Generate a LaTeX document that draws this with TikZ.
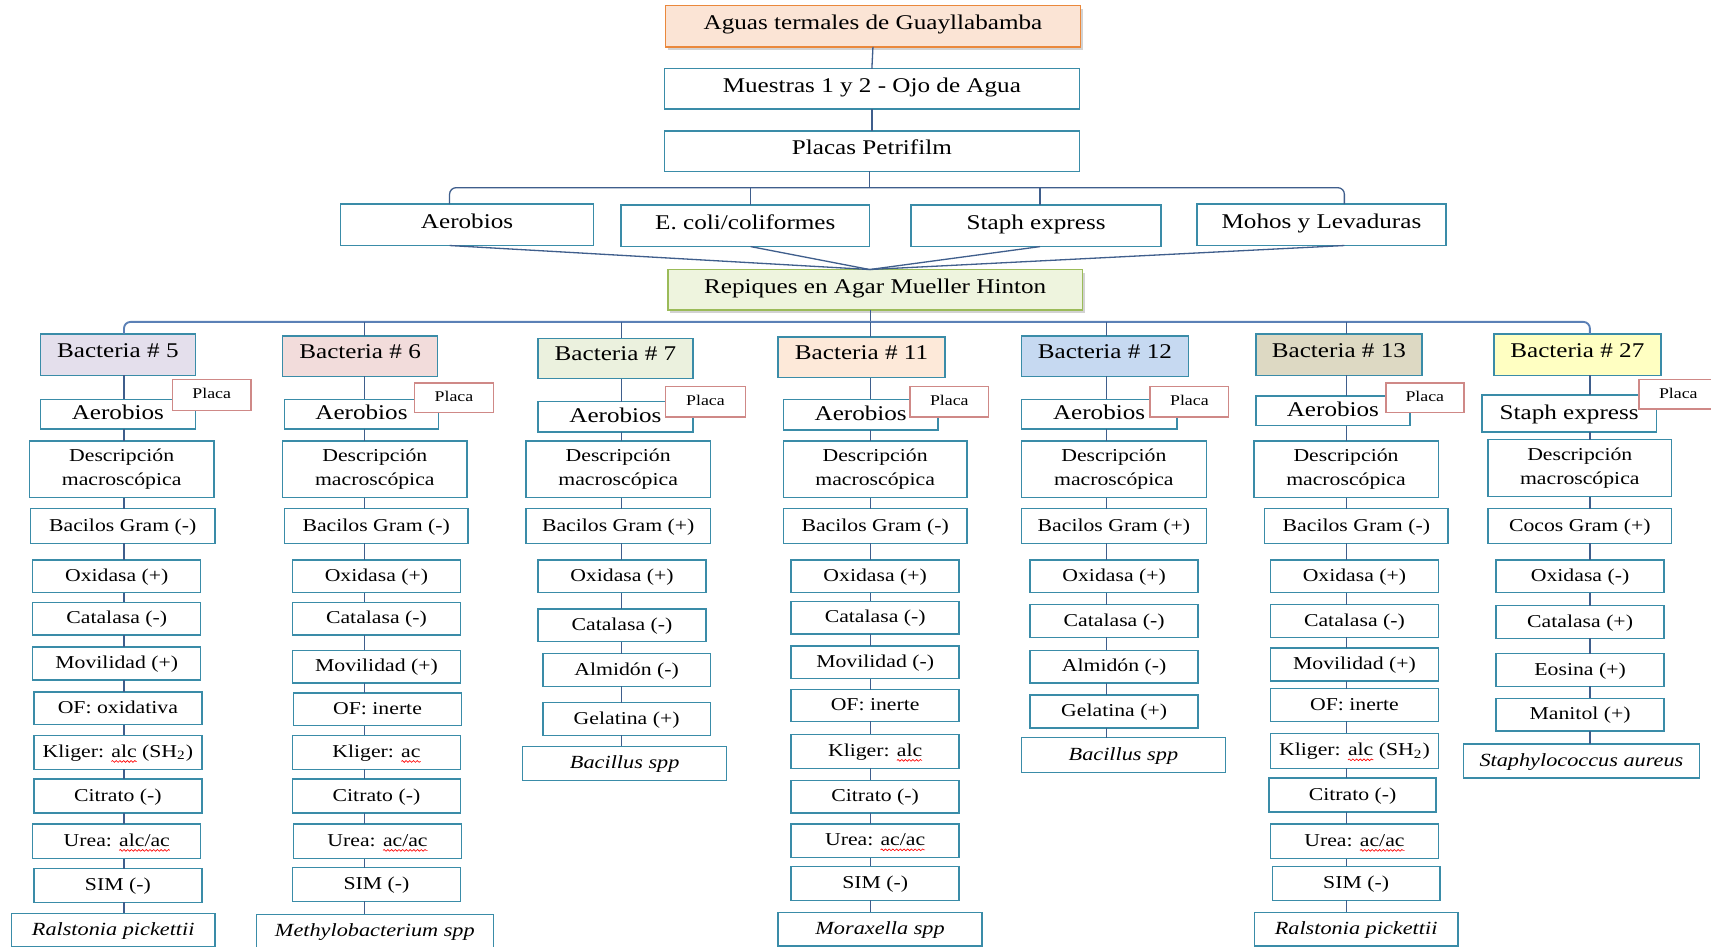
\documentclass[tikz,border=0pt]{standalone}
\usepackage{fontspec}
\setmainfont{Liberation Serif}[FakeStretch=1.2]
\usetikzlibrary{shadows,decorations.pathmorphing}
\definecolor{bord}{HTML}{3A8CA8}
\definecolor{conn}{HTML}{3F5E8C}
\definecolor{trunk}{HTML}{5B80B6}
\definecolor{placab}{HTML}{CF8987}
\definecolor{orgf}{HTML}{FBE4D5}
\definecolor{orgb}{HTML}{EA883C}
\definecolor{grnf}{HTML}{EEF4DE}
\definecolor{grnb}{HTML}{9BBB59}
\definecolor{fa}{HTML}{E4DFEC}
\definecolor{fb}{HTML}{F2DCDB}
\definecolor{fc}{HTML}{EBF1DE}
\definecolor{fd}{HTML}{FDE9D9}
\definecolor{fe}{HTML}{C6D9F1}
\definecolor{ff}{HTML}{DDD9C3}
\definecolor{fg}{HTML}{FFFFC2}
\newsavebox\wbox
\newcommand\rw[1]{\sbox\wbox{#1}\rlap{\tikz[baseline=0pt]{\path[use as bounding box] (0pt,0pt) rectangle (\wd\wbox,1pt);\draw[red,line width=0.3pt,fill=none,decorate,decoration={snake,amplitude=0.4pt,segment length=1.7pt}] (0pt,-1.8pt) -- (\wd\wbox,-1.8pt);}}\usebox\wbox}
\newcommand\bx[7][]{\node[bx,minimum width={(#5-#3)*0.5pt},minimum height={(#6-#4)*0.5pt},#1] (#2) at ({(#3+#5)/2},{(#4+#6)/2}) {#7};}
\newcommand\chain[2]{\foreach \u/\v in {#2} \draw[cn] (#1 |- \u.south) -- (#1 |- \v.north);}
\tikzset{
  bx/.style={draw=bord, line width=0.65pt, fill=white, inner sep=0pt, outer sep=0pt, text=black},
  t/.style={font=\fontsize{8.3}{10}\selectfont, text height=6.3pt, text depth=1.6pt},
  ds/.style={font=\fontsize{8.3}{10.7}\selectfont, align=center},
  sp/.style={font=\fontsize{8.5}{10}\itshape, text height=6.5pt, text depth=2pt},
  big/.style={font=\fontsize{9.6}{11}\selectfont, text height=7pt, text depth=2pt},
  hdr/.style={big, text depth=4.7pt},
  topb/.style={big, text depth=3.7pt},
  pl/.style={draw=placab, font=\fontsize{6.8}{8}\selectfont, text height=5pt, text depth=1.5pt},
  cn/.style={draw=conn, line width=0.6pt},
  tr/.style={draw=trunk, line width=0.85pt, rounded corners=3pt},
  shd/.style={drop shadow={opacity=0.35, shadow xshift=1.2pt, shadow yshift=-1.5pt}}
}
\begin{document}
\begin{tikzpicture}[x=0.5pt,y=-0.5pt]
\fill[white] (0,0) rectangle (1568,867);
\useasboundingbox (0,0) rectangle (1568,867);
% top part
\bx[topb,fill=orgf,draw=orgb,shd]{top1}{610}{5}{990}{43}{Aguas termales de Guayllabamba}
\bx[topb]{top2}{609}{63}{989}{100}{Muestras 1 y 2 - Ojo de Agua}
\bx[topb]{top3}{609}{120}{989}{157}{Placas Petrifilm}
\bx[topb]{m1}{312}{187}{544}{225}{Aerobios}
\bx[topb]{m2}{569}{188}{797}{226}{E. coli/coliformes}
\bx[topb]{m3}{835}{188}{1064}{226}{Staph express}
\bx[topb]{m4}{1097}{187}{1325}{225}{Mohos y Levaduras}
\bx[topb,fill=grnf,draw=grnb,shd]{rep}{612}{247}{992}{284}{Repiques en Agar Mueller Hinton}
% column 1
\bx[hdr,fill=fa]{c1h}{37}{306}{179}{344}{Bacteria \# 5}
\bx[big]{c1a}{37}{366}{179}{393}{Aerobios}
\bx[pl]{c1p}{158}{348}{230}{376}{Placa}
\bx[ds]{c1n1}{27}{404}{196}{456}{Descripción\\macroscópica}
\bx[t]{c1n2}{28}{466}{197}{498}{Bacilos Gram (-)}
\bx[t]{c1n3}{30}{513}{184}{543}{Oxidasa (+)}
\bx[t]{c1n4}{30}{552}{184}{582}{Catalasa (-)}
\bx[t]{c1n5}{30}{593}{184}{623}{Movilidad (+)}
\bx[t]{c1n6}{31}{634}{185}{664}{OF: oxidativa}
\bx[t]{c1n7}{31}{674}{185}{705}{Kliger: \rw{alc} (SH\textsubscript{2})}
\bx[t]{c1n8}{31}{714}{185}{745}{Citrato (-)}
\bx[t]{c1n9}{30}{755}{184}{787}{Urea: \rw{alc/ac}\hspace{20pt}}
\bx[t]{c1n10}{31}{796}{185}{827}{SIM (-)}
\bx[sp]{c1n11}{10.5}{837}{197}{868}{Ralstonia pickettii}
% column 2
\bx[hdr,fill=fb]{c2h}{259}{308}{401}{345}{Bacteria \# 6}
\bx[big]{c2a}{260.5}{366}{402}{393}{Aerobios}
\bx[pl]{c2p}{380}{351}{452}{378}{Placa}
\bx[ds]{c2n1}{259}{404}{428}{456}{Descripción\\macroscópica}
\bx[t]{c2n2}{260.5}{466}{429}{498}{Bacilos Gram (-)}
\bx[t]{c2n3}{268}{513}{422}{543}{Oxidasa (+)}
\bx[t]{c2n4}{268}{552}{422}{582}{Catalasa (-)}
\bx[t]{c2n5}{268}{596}{422}{626}{Movilidad (+)}
\bx[t]{c2n6}{269}{635}{423}{665}{OF: inerte}
\bx[t]{c2n7}{268}{674}{422}{705}{Kliger: \rw{ac}}
\bx[t]{c2n8}{268}{714}{422}{745}{Citrato (-)}
\bx[t]{c2n9}{269}{755}{423}{787}{Urea: \rw{ac/ac}\hspace{22pt}}
\bx[t]{c2n10}{268}{795}{422}{826}{SIM (-)}
\bx[sp]{c2n11}{235}{838}{452}{869}{Methylobacterium spp}
% column 3
\bx[hdr,fill=fc]{c3h}{493}{310}{635}{347}{Bacteria \# 7}
\bx[big]{c3a}{493}{368}{635}{396}{Aerobios}
\bx[pl]{c3p}{610}{354}{683}{382}{Placa}
\bx[ds]{c3n1}{482}{404}{651}{456}{Descripción\\macroscópica}
\bx[t]{c3n2}{482}{466}{651}{498}{Bacilos Gram (+)}
\bx[t]{c3n3}{493}{513}{647}{543}{Oxidasa (+)}
\bx[t]{c3n4}{493}{558}{647}{588}{Catalasa (-)}
\bx[t]{c3n5}{497.5}{599}{651}{629}{Almidón (-)}
\bx[t]{c3n6}{497.5}{644}{651}{674}{Gelatina (+)}
\bx[sp]{c3n7}{479}{684}{666}{715}{Bacillus spp}
% column 4
\bx[hdr,fill=fd]{c4h}{713}{309}{866}{346}{Bacteria \# 11}
\bx[big]{c4a}{718}{366}{859.5}{394}{Aerobios}
\bx[pl]{c4p}{834}{354}{906}{382}{Placa}
\bx[ds]{c4n1}{718}{404}{886}{456}{Descripción\\macroscópica}
\bx[t]{c4n2}{718}{466}{886}{498}{Bacilos Gram (-)}
\bx[t]{c4n3}{725}{513}{879}{543}{Oxidasa (+)}
\bx[t]{c4n4}{725}{551}{879}{581}{Catalasa (-)}
\bx[t]{c4n5}{725}{592}{879}{622}{Movilidad (-)}
\bx[t]{c4n6}{725}{632}{879}{661}{OF: inerte}
\bx[t]{c4n7}{725}{673}{879}{704}{Kliger: \rw{alc}}
\bx[t]{c4n8}{725}{715}{879}{745}{Citrato (-)}
\bx[t]{c4n9}{725}{755}{879}{786}{Urea: \rw{ac/ac}\hspace{22pt}}
\bx[t]{c4n10}{725}{794}{879}{825}{SIM (-)}
\bx[sp]{c4n11}{713}{836}{900}{867}{Moraxella spp}
% column 5
\bx[hdr,fill=fe]{c5h}{936}{308}{1089}{345}{Bacteria \# 12}
\bx[big]{c5a}{936}{366}{1078.5}{393}{Aerobios}
\bx[pl]{c5p}{1054}{354}{1126}{382}{Placa}
\bx[ds]{c5n1}{936}{404}{1105.5}{456}{Descripción\\macroscópica}
\bx[t]{c5n2}{936}{466}{1105.5}{498}{Bacilos Gram (+)}
\bx[t]{c5n3}{944}{513}{1098}{543}{Oxidasa (+)}
\bx[t]{c5n4}{944}{554}{1098}{584}{Catalasa (-)}
\bx[t]{c5n5}{944}{596}{1098}{626}{Almidón (-)}
\bx[t]{c5n6}{944}{637}{1098}{667}{Gelatina (+)}
\bx[sp]{c5n7}{936}{676}{1123}{708}{Bacillus spp}
% column 6
\bx[hdr,fill=ff]{c6h}{1151}{306}{1303}{344}{Bacteria \# 13}
\bx[big]{c6a}{1151}{363}{1292}{390}{Aerobios}
\bx[pl]{c6p}{1270}{351}{1341.5}{378}{Placa}
\bx[ds]{c6n1}{1149}{404}{1318}{456}{Descripción\\macroscópica}
\bx[t]{c6n2}{1159}{466}{1327}{498}{Bacilos Gram (-)}
\bx[t]{c6n3}{1164.5}{513}{1318}{543}{Oxidasa (+)}
\bx[t]{c6n4}{1164.5}{554}{1318}{584}{Catalasa (-)}
\bx[t]{c6n5}{1164.5}{594}{1318}{624}{Movilidad (+)}
\bx[t]{c6n6}{1164.5}{631}{1318}{661}{OF: inerte}
\bx[t]{c6n7}{1164.5}{672}{1318}{704}{Kliger: \rw{alc} (SH\textsubscript{2})}
\bx[t]{c6n8}{1163}{713}{1316}{744}{Citrato (-)}
\bx[t]{c6n9}{1164.5}{755}{1318}{787}{Urea: \rw{ac/ac}\hspace{22pt}}
\bx[t]{c6n10}{1166}{794}{1319.5}{825}{SIM (-)}
\bx[sp]{c6n11}{1149.5}{836}{1336}{867}{Ralstonia pickettii}
% column 7
\bx[hdr,fill=fg]{c7h}{1369}{306}{1522}{344}{Bacteria \# 27}
\bx[big]{c7a}{1358}{362}{1518}{396}{Staph express}
\bx[pl]{c7p}{1502}{348}{1574}{375}{Placa}
\bx[ds]{c7n1}{1363.5}{403}{1532}{455}{Descripción\\macroscópica}
\bx[t]{c7n2}{1363.5}{466}{1532}{498}{Cocos Gram (+)}
\bx[t]{c7n3}{1371}{513}{1525}{543}{Oxidasa (-)}
\bx[t]{c7n4}{1371}{555}{1525}{585}{Catalasa (+)}
\bx[t]{c7n5}{1371}{599}{1525}{629}{Eosina (+)}
\bx[t]{c7n6}{1371}{640}{1525}{670}{Manitol (+)}
\bx[sp]{c7n7}{1341}{682}{1557.5}{713}{Staphylococcus aureus}
% trunk coordinates
\coordinate (brk) at (0,172);
\coordinate (trk) at (0,295);
\coordinate (ta) at (412,0);
\coordinate (te) at (688,0);
\coordinate (ts) at (953,0);
\coordinate (tm) at (1232,0);
\coordinate (tc) at (797,0);
\coordinate (t1) at (113.6,0);
\coordinate (t2) at (334,0);
\coordinate (t3) at (569.5,0);
\coordinate (t4) at (798,0);
\coordinate (t5) at (1014,0);
\coordinate (t6) at (1234,0);
\coordinate (t7) at (1457,0);
% top connectors
\draw[cn] (top1.south) -- (top2.north);
\draw[cn] (top2.south) -- (top3.north);
\draw[cn] (tc |- top3.south) -- (tc |- brk);
\draw[cn,rounded corners=3pt] (ta |- m1.north) -- (ta |- brk) -- (tm |- brk) -- (tm |- m4.north);
\draw[cn] (te |- brk) -- (te |- m2.north);
\draw[cn] (ts |- brk) -- (ts |- m3.north);
\foreach \n/\c in {m1/ta,m2/te,m3/ts,m4/tm} \draw[cn] (\c |- \n.south) -- (tc |- rep.north);
% repiques trunk
\draw[cn] (t4 |- rep.south) -- (t4 |- trk);
\draw[tr] (t1 |- c1h.north) -- (t1 |- trk) -- (t7 |- trk) -- (t7 |- c7h.north);
\foreach \k in {2,...,6} \draw[cn] (t\k |- trk) -- (t\k |- c\k h.north);
% column chains
\chain{t1}{c1h/c1a,c1a/c1n1,c1n1/c1n2,c1n2/c1n3,c1n3/c1n4,c1n4/c1n5,c1n5/c1n6,c1n6/c1n7,c1n7/c1n8,c1n8/c1n9,c1n9/c1n10,c1n10/c1n11}
\chain{t2}{c2h/c2a,c2a/c2n1,c2n1/c2n2,c2n2/c2n3,c2n3/c2n4,c2n4/c2n5,c2n5/c2n6,c2n6/c2n7,c2n7/c2n8,c2n8/c2n9,c2n9/c2n10,c2n10/c2n11}
\chain{t3}{c3h/c3a,c3a/c3n1,c3n1/c3n2,c3n2/c3n3,c3n3/c3n4,c3n4/c3n5,c3n5/c3n6,c3n6/c3n7}
\chain{t4}{c4h/c4a,c4a/c4n1,c4n1/c4n2,c4n2/c4n3,c4n3/c4n4,c4n4/c4n5,c4n5/c4n6,c4n6/c4n7,c4n7/c4n8,c4n8/c4n9,c4n9/c4n10,c4n10/c4n11}
\chain{t5}{c5h/c5a,c5a/c5n1,c5n1/c5n2,c5n2/c5n3,c5n3/c5n4,c5n4/c5n5,c5n5/c5n6,c5n6/c5n7}
\chain{t6}{c6h/c6a,c6a/c6n1,c6n1/c6n2,c6n2/c6n3,c6n3/c6n4,c6n4/c6n5,c6n5/c6n6,c6n6/c6n7,c6n7/c6n8,c6n8/c6n9,c6n9/c6n10,c6n10/c6n11}
\chain{t7}{c7h/c7a,c7a/c7n1,c7n1/c7n2,c7n2/c7n3,c7n3/c7n4,c7n4/c7n5,c7n5/c7n6,c7n6/c7n7}
\end{tikzpicture}
\end{document}
